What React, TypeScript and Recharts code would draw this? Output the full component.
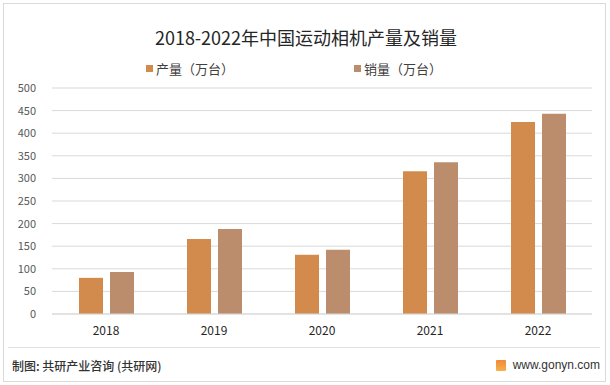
import { BarChart, Bar, XAxis, YAxis, CartesianGrid } from 'recharts';

const years = ['2018', '2019', '2020', '2021', '2022'];
const production = [80, 166, 131, 316, 425];
const sales = [93, 188, 142, 336, 443];
const yTicks = [0, 50, 100, 150, 200, 250, 300, 350, 400, 450, 500];

const seriesNames = ['产量（万台）', '销量（万台）'];
const colors = ['#D38B4D', '#BB8D6C'];

const points = years.map((y, i) => ({ name: y, p: production[i], s: sales[i] }));

const font = '"Microsoft YaHei", "Noto Sans CJK SC", "Noto Sans", sans-serif';

export default function App() {
    return (
        <div style={{ position: 'absolute', left: 0, top: 0, width: 610, height: 385, background: '#fff', fontFamily: font, overflow: 'hidden' }}>
            <div style={{ position: 'absolute', left: 3, top: 3, width: 601, height: 377, border: '1px solid #D9D9D9' }} />
            <div style={{ position: 'absolute', left: 0, top: 24, width: 612, textAlign: 'center', fontSize: 18, color: '#262626' }}>
                2018-2022年中国运动相机产量及销量
            </div>
            {seriesNames.map((n, i) => (
                <div key={n} style={{ position: 'absolute', left: i === 0 ? 146 : 354, top: 59, fontSize: 13, color: '#404040', display: 'flex', alignItems: 'center', whiteSpace: 'nowrap' }}>
                    <span style={{ display: 'inline-block', width: 7, height: 7, background: colors[i], marginRight: 3 }} />
                    {n}
                </div>
            ))}
            <div style={{ position: 'absolute', left: 0, top: 0 }}>
                <BarChart width={610} height={340} data={points} margin={{ top: 88, right: 18, left: 0, bottom: 0 }} barSize={24} barGap={7}>
                    <CartesianGrid vertical={false} stroke="#D9D9D9" />
                    <XAxis dataKey="name" height={26} tickLine={false} tickSize={0} tickMargin={12} axisLine={{ stroke: '#D9D9D9' }} tick={{ fontSize: 12, fill: '#262626' }} />
                    <YAxis width={52} domain={[0, 500]} ticks={yTicks} interval={0} tickLine={false} axisLine={false} tickSize={0} tickMargin={16} tick={{ fontSize: 11, fill: '#595959' }} />
                    <Bar dataKey="p" fill={colors[0]} isAnimationActive={false} />
                    <Bar dataKey="s" fill={colors[1]} isAnimationActive={false} />
                </BarChart>
            </div>
            <div style={{ position: 'absolute', left: 8, top: 347, width: 592, height: 1, background: '#E0E0E0' }} />
            <div style={{ position: 'absolute', left: 12, top: 357, fontSize: 12, color: '#333', fontWeight: 500, whiteSpace: 'nowrap' }}>
                制图: 共研产业咨询 (共研网)
            </div>
            <div style={{ position: 'absolute', right: 10, top: 358, display: 'flex', alignItems: 'center', fontSize: 12, color: '#333', whiteSpace: 'nowrap', fontFamily: '"Liberation Sans", Arial, sans-serif' }}>
                <span style={{ display: 'inline-block', width: 10, height: 11, background: 'linear-gradient(#F08A3A, #F5B04A)', marginRight: 7, borderRadius: 1 }} />
                www.gonyn.com
            </div>
        </div>
    );
}
